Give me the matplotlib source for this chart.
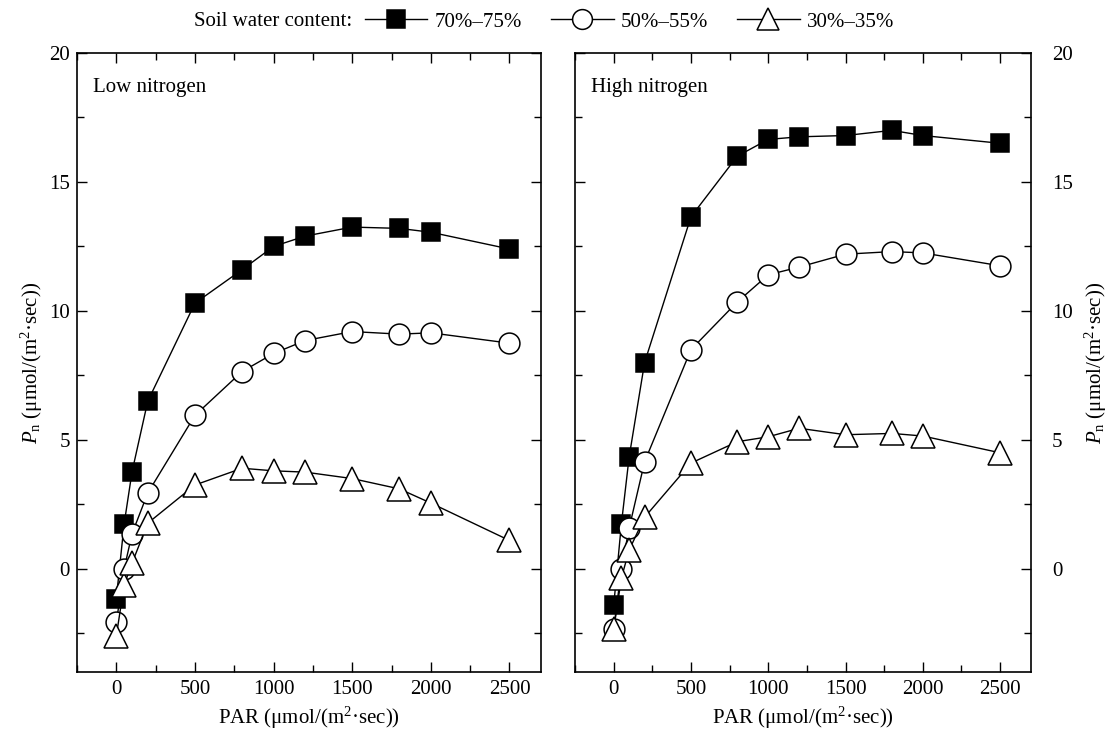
import matplotlib
matplotlib.use("Agg")
import matplotlib.pyplot as plt
from matplotlib.ticker import MultipleLocator

plt.rcParams["font.family"] = ["Liberation Serif", "DejaVu Serif"]
plt.rcParams["mathtext.fontset"] = "custom"
plt.rcParams["mathtext.rm"] = "Liberation Serif"
plt.rcParams["mathtext.it"] = "Liberation Serif:italic"

# ─── data ───────────────────────────────────────────────────────────
par = [0, 50, 100, 200, 500, 800, 1000, 1200, 1500, 1800, 2000, 2500]

low_70 = [-1.15, 1.75, 3.76, 6.5, 10.3, 11.6, 12.5, 12.9, 13.25, 13.2, 13.05, 12.4]
low_50 = [-2.08, 0.0, 1.36, 2.94, 5.95, 7.65, 8.35, 8.85, 9.2, 9.1, 9.15, 8.75]
low_30 = [-2.6, -0.62, 0.22, 1.77, 3.25, 3.9, 3.8, 3.75, 3.5, 3.1, 2.55, 1.1]

high_70 = [-1.42, 1.75, 4.34, 8.0, 13.65, 16.0, 16.65, 16.75, 16.8, 17.0, 16.8, 16.5]
high_50 = [-2.33, 0.0, 1.58, 4.15, 8.5, 10.35, 11.4, 11.7, 12.2, 12.3, 12.25, 11.75]
high_30 = [-2.35, -0.35, 0.73, 2.0, 4.1, 4.93, 5.12, 5.45, 5.2, 5.25, 5.15, 4.5]

series_labels = ["70%–75%", "50%–55%", "30%–35%"]
panel_titles = ["Low nitrogen", "High nitrogen"]

ylab = r"$P_{\mathrm{n}}$ (μmol/(m$^{2}$·sec))"
xlab = r"PAR (μmol/(m$^{2}$·sec))"

FS = 15

# ─── plot ───────────────────────────────────────────────────────────
fig = plt.figure(figsize=(11.11, 7.31), dpi=100)
ax1 = fig.add_axes([0.0693, 0.0807, 0.4176, 0.8468])
ax2 = fig.add_axes([0.5176, 0.0807, 0.4104, 0.8468])

styles = [
    dict(marker="s", markersize=13, markerfacecolor="black"),
    dict(marker="o", markersize=15, markerfacecolor="white"),
    dict(marker="^", markersize=17, markerfacecolor="white"),
]

handles = []
for ax, data, title in [(ax1, [low_70, low_50, low_30], panel_titles[0]),
                        (ax2, [high_70, high_50, high_30], panel_titles[1])]:
    for ys, st, lbl in zip(data, styles, series_labels):
        h, = ax.plot(par, ys, color="black", linewidth=1.0,
                     markeredgecolor="black", markeredgewidth=1.1,
                     label=lbl, **st)
        if ax is ax1:
            handles.append(h)
    ax.set_xlim(-250, 2700)
    ax.set_ylim(-4, 20)
    ax.xaxis.set_major_locator(MultipleLocator(500))
    ax.xaxis.set_minor_locator(MultipleLocator(250))
    ax.yaxis.set_major_locator(MultipleLocator(5))
    ax.yaxis.set_minor_locator(MultipleLocator(2.5))
    ax.tick_params(which="both", direction="in", top=True, right=True,
                   labelsize=FS, width=1.0)
    ax.tick_params(which="major", length=7)
    ax.tick_params(which="minor", length=5)
    ax.tick_params(axis="x", pad=6)
    for sp in ax.spines.values():
        sp.set_linewidth(1.2)
    ax.set_xlabel(xlab, fontsize=FS, labelpad=4)
    ax.text(0.035, 0.945, title, transform=ax.transAxes, fontsize=FS,
            ha="left", va="center")

ax1.set_yticks([0, 5, 10, 15, 20])
ax1.tick_params(axis="y", pad=5)
ax1.set_ylabel(ylab, fontsize=FS)
ax1.yaxis.set_label_coords(-0.069, 0.5)

ax2.set_yticks([0, 5, 10, 15, 20])
ax2.tick_params(axis="y", labelleft=False, labelright=True, pad=15)
ax2.yaxis.set_label_position("right")
ax2.set_ylabel(ylab, fontsize=FS, rotation=90)
ax2.yaxis.set_label_coords(1.113, 0.5)

fig.text(0.3168, 0.97, "Soil water content:", fontsize=FS,
         ha="right", va="center")
fig.legend(handles=handles, loc="center left", bbox_to_anchor=(0.3285, 0.97),
           ncol=3, frameon=False, fontsize=FS, handlelength=3.0,
           handletextpad=0.34, columnspacing=1.4, borderpad=0,
           borderaxespad=0, markerscale=0.95)

fig.savefig("out.png", dpi=100, facecolor="white")
